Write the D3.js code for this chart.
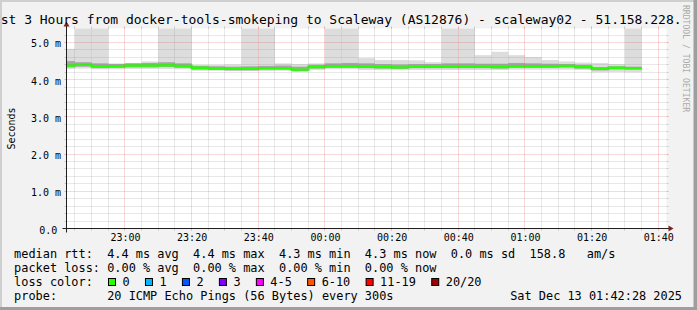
<!DOCTYPE html>
<html>
<head>
<meta charset="utf-8">
<script src="https://cdn.jsdelivr.net/npm/d3@7"></script>
<style>
  body { margin: 0; background: #fff; }
  svg { display: block; }
  text { font-family: "DejaVu Sans Mono", monospace; white-space: pre; }
</style>
</head>
<body>
<div id="chart"></div>
<script>
const width = 697;
const height = 310;

// one value per 5 minute step, first step starts 22:40 (ms)
const medianRtt = [4.38, 4.40, 4.36, 4.36, 4.38, 4.38, 4.39, 4.37, 4.32, 4.31, 4.29, 4.29,
    4.31, 4.31, 4.27, 4.34, 4.36, 4.36, 4.35, 4.34, 4.33, 4.35, 4.35, 4.35,
    4.35, 4.35, 4.34, 4.36, 4.36, 4.36, 4.37, 4.34, 4.29, 4.32, 4.31];
const smokeMax = [4.83, 6.0, 6.0, 4.44, 4.45, 4.49, 6.0, 6.0, 4.40, 4.40, 4.41, 6.0,
    6.0, 4.44, 4.42, 4.44, 6.0, 6.0, 4.58, 4.53, 4.53, 4.52, 4.47, 6.0,
    6.0, 4.66, 4.75, 4.66, 4.61, 4.53, 4.49, 4.46, 4.45, 4.42, 6.0];
const smokeHi = [4.50, 4.47, 4.44, 4.42, 4.44, 4.45, 4.47, 4.44, 4.37, 4.36, 4.35, 4.36,
    4.37, 4.38, 4.35, 4.40, 4.44, 4.45, 4.44, 4.42, 4.41, 4.42, 4.42, 4.44,
    4.44, 4.43, 4.43, 4.45, 4.44, 4.43, 4.42, 4.40, 4.34, 4.36, 4.35];
const smokeLo = [4.33, 4.35, 4.31, 4.32, 4.33, 4.33, 4.34, 4.32, 4.27, 4.26, 4.25, 4.25,
    4.27, 4.27, 4.23, 4.30, 4.32, 4.32, 4.31, 4.30, 4.29, 4.31, 4.31, 4.31,
    4.31, 4.31, 4.30, 4.32, 4.32, 4.32, 4.33, 4.30, 4.25, 4.28, 4.27];
const smokeMin = [4.29, 4.30, 4.28, 4.28, 4.29, 4.29, 4.29, 4.28, 4.24, 4.24, 4.23, 4.23,
    4.23, 4.24, 4.21, 4.26, 4.28, 4.28, 4.26, 4.26, 4.26, 4.26, 4.26, 4.26,
    4.26, 4.26, 4.26, 4.27, 4.27, 4.27, 4.27, 4.26, 4.20, 4.21, 4.20];

const yTicks = [0, 1, 2, 3, 4, 5];
const lossLabels = ["0", "1", "2", "3", "4-5", "6-10", "11-19", "20/20"];
const lossColors = ["#26ff00", "#00b8ff", "#0059ff", "#7e00ff", "#ff00ff", "#ff5500", "#ff0000", "#a00000"];

const titleText = "Last 3 Hours from docker-tools-smokeping to Scaleway (AS12876) - scaleway02 - 51.158.228.";
const rttLine = "median rtt:  4.4 ms avg  4.4 ms max  4.3 ms min  4.3 ms now  0.0 ms sd  158.8   am/s";
const lossLine = "packet loss: 0.00 % avg  0.00 % max  0.00 % min  0.00 % now";
const probeLine = "probe:       20 ICMP Echo Pings (56 Bytes) every 300s";
const stampText = "Sat Dec 13 01:42:28 2025";

const tStart = new Date(2025, 11, 12, 22, 42, 28);
const tEnd = new Date(2025, 11, 13, 1, 42, 28);
const steps = d3.timeMinute.every(5).range(new Date(2025, 11, 12, 22, 40), new Date(2025, 11, 13, 1, 35));

const x0 = 66.5, x1 = 666.5, y0 = 228.5, y1 = 28.5;
const x = d3.scaleTime().domain([tStart, tEnd]).range([x0, x1]);
const y = d3.scaleLinear().domain([0, 5.376]).range([y0, y1]);

const svg = d3.select("#chart").append("svg")
    .attr("width", width)
    .attr("height", height);

svg.append("rect").attr("width", width).attr("height", height).attr("fill", "#f2f2f2");
svg.append("rect")
    .attr("x", x0).attr("y", y1)
    .attr("width", x1 - x0).attr("height", y0 - y1)
    .attr("fill", "#fff");

svg.append("clipPath").attr("id", "plot")
    .append("rect")
    .attr("x", x0).attr("y", y1)
    .attr("width", x1 - x0).attr("height", y0 - y1);

const plot = svg.append("g").attr("clip-path", "url(#plot)");
const stepEnd = t => d3.timeMinute.offset(t, 5);

// smoke
plot.append("g").selectAll("rect")
    .data(steps)
    .join("rect")
    .attr("x", d => x(d))
    .attr("width", d => x(stepEnd(d)) - x(d))
    .attr("y", (d, i) => y(smokeMax[i]))
    .attr("height", (d, i) => y(smokeMin[i]) - y(smokeMax[i]))
    .attr("fill", "#dddddd");

plot.append("g").selectAll("rect")
    .data(steps)
    .join("rect")
    .attr("x", d => x(d))
    .attr("width", d => x(stepEnd(d)) - x(d))
    .attr("y", (d, i) => y(smokeHi[i]))
    .attr("height", (d, i) => y(smokeLo[i]) - y(smokeHi[i]))
    .attr("fill", "#a6a6a6");

// median line
const linePts = steps.map((d, i) => [d, medianRtt[i]]);
linePts.push([stepEnd(steps[steps.length - 1]), medianRtt[medianRtt.length - 1]]);
plot.append("path")
    .datum(linePts)
    .attr("fill", "none")
    .attr("stroke", lossColors[0])
    .attr("stroke-width", 2.4)
    .attr("d", d3.line().x(d => x(d[0])).y(d => y(d[1])).curve(d3.curveStepAfter));

// grid
const crisp = v => Math.round(v - 0.5) + 0.5;
const majorTimes = d3.timeMinute.every(20).range(tStart, tEnd);
const minorTimes = d3.timeMinute.every(5).range(tStart, tEnd).filter(t => t.getMinutes() % 20 !== 0);
const minorVals = d3.range(1, 27).filter(i => i % 5 !== 0).map(i => i / 5);
const majorVals = yTicks.filter(v => v > 0);

const gridMinor = "rgba(143,143,143,0.4)";
const gridMajor = "rgba(222,79,79,0.45)";

function vGrid(times, color) {
    const g = svg.append("g").attr("stroke", color).attr("stroke-width", 1);
    times.forEach(t => {
        const px = crisp(x(t));
        g.append("line").attr("x1", px).attr("x2", px).attr("y1", y1).attr("y2", y0)
            .attr("stroke-dasharray", "1,1");
        g.append("line").attr("x1", px).attr("x2", px).attr("y1", y0).attr("y2", y0 + 2);
        g.append("line").attr("x1", px).attr("x2", px).attr("y1", y1 - 2).attr("y2", y1);
    });
}
function hGrid(vals, color) {
    const g = svg.append("g").attr("stroke", color).attr("stroke-width", 1);
    vals.forEach(v => {
        const py = crisp(y(v));
        g.append("line").attr("x1", x0).attr("x2", x1).attr("y1", py).attr("y2", py)
            .attr("stroke-dasharray", "1,1");
        g.append("line").attr("x1", x0 - 2).attr("x2", x0).attr("y1", py).attr("y2", py);
        g.append("line").attr("x1", x1).attr("x2", x1 + 2).attr("y1", py).attr("y2", py);
    });
}
vGrid(minorTimes, gridMinor);
hGrid(minorVals, gridMinor);
vGrid(majorTimes, gridMajor);
hGrid(majorVals, gridMajor);

// axes
svg.append("line").attr("x1", x0 - 4).attr("x2", x1 + 4).attr("y1", y0).attr("y2", y0)
    .attr("stroke", "#1f1f1f");
svg.append("line").attr("x1", x0).attr("x2", x0).attr("y1", y0 + 4).attr("y2", y1 - 4)
    .attr("stroke", "#1f1f1f");
svg.append("path")
    .attr("d", `M${x1 + 2},${y0 - 3}L${x1 + 2},${y0 + 3}L${x1 + 7},${y0}Z`)
    .attr("fill", "#7f1f1f");
svg.append("path")
    .attr("d", `M${x0 - 3},${y1 - 2}L${x0 + 3},${y1 - 2}L${x0},${y1 - 7}Z`)
    .attr("fill", "#7f1f1f");

const xAxis = d3.axisBottom(x)
    .tickValues(majorTimes)
    .tickFormat(d3.timeFormat("%H:%M"))
    .tickSize(0);
svg.append("g")
    .attr("transform", `translate(0,${y0})`)
    .call(xAxis)
    .call(g => g.select(".domain").remove())
    .attr("font-family", "DejaVu Sans Mono")
    .attr("font-size", 10)
    .selectAll("text")
    .attr("y", 0)
    .attr("dy", 12)
    .attr("fill", "#000");

const yAxis = d3.axisLeft(y)
    .tickValues(yTicks)
    .tickFormat(d => d === 0 ? "0.0" : d3.format(".1f")(d) + " m")
    .tickSize(0)
    .tickPadding(5.5);
svg.append("g")
    .attr("transform", `translate(${x0},0)`)
    .call(yAxis)
    .call(g => g.select(".domain").remove())
    .attr("font-family", "DejaVu Sans Mono")
    .attr("font-size", 10)
    .selectAll("text")
    .attr("dy", 4.5)
    .attr("dx", d => d === 0 ? -3.7 : 0)
    .attr("fill", "#000");

svg.append("text")
    .attr("transform", `translate(14.5,${(y0 + y1) / 2}) rotate(-90)`)
    .attr("text-anchor", "middle")
    .style("font-size", "10px")
    .text("Seconds");

// title, wider than the image as in the original
svg.append("text")
    .attr("x", -15)
    .attr("y", 24)
    .style("font-size", "13px")
    .text(titleText);

// legend
const legendX = 14.1;
const legendY = [258.3, 272.2, 286.1, 300.0];
const legend = svg.append("g").style("font-size", "11.9px");
legend.append("text").attr("x", legendX).attr("y", legendY[0]).text(rttLine);
legend.append("text").attr("x", legendX).attr("y", legendY[1]).text(lossLine);
legend.append("text").attr("x", legendX).attr("y", legendY[2]).text("loss color:");
legend.append("text").attr("x", legendX).attr("y", legendY[3]).text(probeLine);
legend.append("text").attr("x", 682).attr("y", legendY[3])
    .attr("text-anchor", "end").text(stampText);

let cx = 108.5;
lossLabels.forEach((lab, i) => {
    legend.append("rect")
        .attr("x", cx).attr("y", 278.5)
        .attr("width", 7).attr("height", 7)
        .attr("fill", lossColors[i])
        .attr("stroke", "#000");
    legend.append("text").attr("x", cx + 14).attr("y", legendY[2]).text(lab);
    cx += 14 + lab.length * 7.165 + 15.8;
});

// frame
svg.append("rect").attr("x", 0).attr("y", 0).attr("width", width).attr("height", 2).attr("fill", "#cfcfcf");
svg.append("rect").attr("x", 0).attr("y", 0).attr("width", 2).attr("height", height).attr("fill", "#cfcfcf");
svg.append("rect").attr("x", 0).attr("y", height - 3).attr("width", width).attr("height", 3).attr("fill", "#9e9e9e");
svg.append("rect").attr("x", width - 3.5).attr("y", 0).attr("width", 3.5).attr("height", height).attr("fill", "#9e9e9e");

svg.append("text")
    .attr("transform", "translate(683.3,5) rotate(90)")
    .style("font-size", "8.1px")
    .attr("fill", "#aaaaaa")
    .text("RRDTOOL / TOBI OETIKER");
</script>
</body>
</html>
